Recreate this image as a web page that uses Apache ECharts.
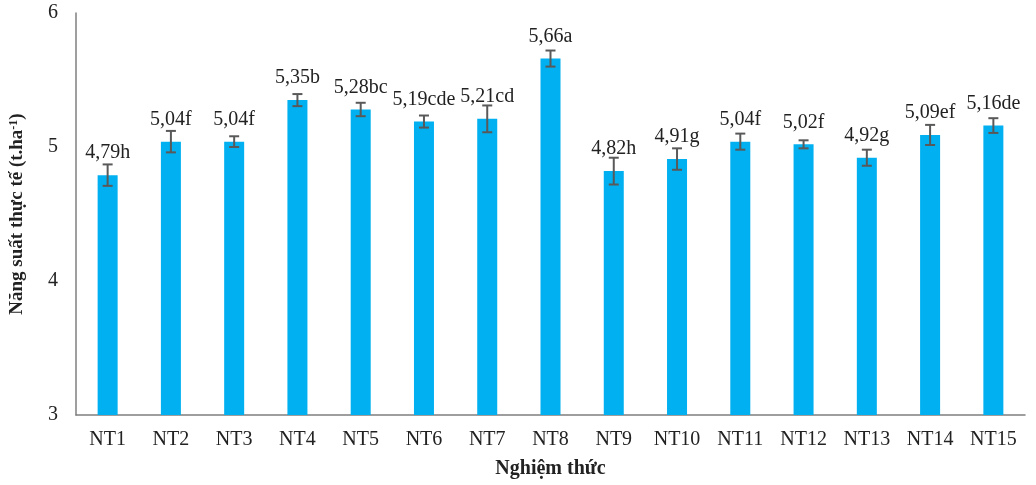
<!DOCTYPE html>
<html>
<head>
<meta charset="utf-8">
<script src="https://cdn.jsdelivr.net/npm/echarts@6/dist/echarts.min.js"></script>
<style>
  html, body { margin: 0; padding: 0; background: #fff; }
  #chart { width: 1036px; height: 485px; }
</style>
</head>
<body>
<div id="chart"></div>
<script>
// Treatments and measured yield (t/ha)
const categories = ['NT1','NT2','NT3','NT4','NT5','NT6','NT7','NT8','NT9','NT10','NT11','NT12','NT13','NT14','NT15'];
const yieldValues = [4.79, 5.04, 5.04, 5.35, 5.28, 5.19, 5.21, 5.66, 4.82, 4.91, 5.04, 5.02, 4.92, 5.09, 5.16];
const errorValues = [0.08, 0.08, 0.04, 0.045, 0.05, 0.045, 0.10, 0.06, 0.10, 0.08, 0.06, 0.03, 0.06, 0.075, 0.055];
const groupLetters = ['h','f','f','b','bc','cde','cd','a','h','g','f','f','g','ef','de'];
const yTicks = { min: 3, max: 6, interval: 1 };

const FONT = '"Liberation Serif", "Times New Roman", serif';
const chart = echarts.init(document.getElementById('chart'), null, { renderer: 'canvas' });

const errorData = yieldValues.map((v, i) => [i, v - errorValues[i], v + errorValues[i]]);

chart.setOption({
  animation: false,
  grid: { left: 75, right: 11, top: 13, bottom: 70, containLabel: false },
  xAxis: {
    type: 'category',
    data: categories,
    axisLine: { lineStyle: { color: '#7f7f7f', width: 1.5 } },
    axisTick: { show: false },
    axisLabel: { color: '#222', fontFamily: FONT, fontSize: 20, margin: 15 },
    name: 'Nghiệm thức',
    nameLocation: 'middle',
    nameGap: 44,
    nameTextStyle: { color: '#222', fontFamily: FONT, fontSize: 20, fontWeight: 'bold' }
  },
  yAxis: {
    type: 'value',
    min: yTicks.min,
    max: yTicks.max,
    interval: yTicks.interval,
    splitLine: { show: false },
    axisLine: { show: true, lineStyle: { color: '#7f7f7f', width: 1.5 } },
    axisTick: { show: false },
    axisLabel: { color: '#222', fontFamily: FONT, fontSize: 20, margin: 18 },
    name: '{t|Năng suất thực tế (t.ha}{s|-1}{t|)}',
    nameLocation: 'middle',
    nameGap: 49,
    nameRotate: 90,
    nameTextStyle: {
      rich: {
        t: { fontFamily: FONT, fontSize: 19, fontWeight: 'bold', color: '#222' },
        s: { fontFamily: FONT, fontSize: 12, fontWeight: 'bold', color: '#222', verticalAlign: 'top', padding: [0, 0, 6, 0] }
      }
    }
  },
  series: [
    {
      type: 'bar',
      data: yieldValues,
      barWidth: 20,
      itemStyle: { color: '#00B0F0' },
      label: {
        show: true,
        position: 'top',
        distance: 12,
        fontFamily: FONT,
        fontSize: 20,
        color: '#222',
        formatter: p => yieldValues[p.dataIndex].toFixed(2).replace('.', ',') + groupLetters[p.dataIndex]
      },
      z: 2
    },
    {
      type: 'custom',
      data: errorData,
      z: 3,
      encode: { x: 0, y: [1, 2] },
      renderItem: (params, api) => {
        const x = api.value(0);
        const lo = api.coord([x, api.value(1)]);
        const hi = api.coord([x, api.value(2)]);
        const half = 5;
        const style = { stroke: '#595959', lineWidth: 2 };
        return {
          type: 'group',
          children: [
            { type: 'line', shape: { x1: lo[0], y1: lo[1], x2: hi[0], y2: hi[1] }, style },
            { type: 'line', shape: { x1: lo[0] - half, y1: lo[1], x2: lo[0] + half, y2: lo[1] }, style },
            { type: 'line', shape: { x1: hi[0] - half, y1: hi[1], x2: hi[0] + half, y2: hi[1] }, style }
          ]
        };
      }
    }
  ]
});
</script>
</body>
</html>
